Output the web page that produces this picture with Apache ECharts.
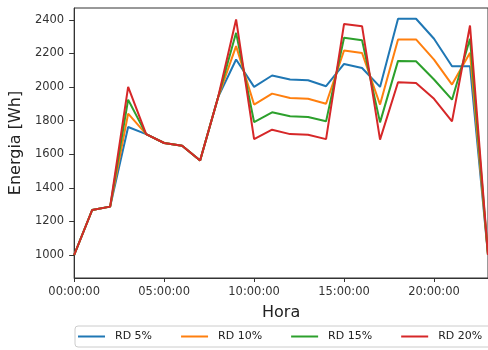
<!DOCTYPE html>
<html>
<head>
<meta charset="utf-8">
<script src="https://cdn.jsdelivr.net/npm/echarts@6/dist/echarts.min.js"></script>
<style>
html,body{margin:0;padding:0;background:#fff;}
#chart{width:488px;height:350px;}
</style>
</head>
<body>
<div id="chart"></div>
<script>
const hours = [0,1,2,3,4,5,6,7,8,9,10,11,12,13,14,15,16,17,18,19,20,21,22,23];
const seriesNames = ['RD 5%','RD 10%','RD 15%','RD 20%'];
const rd5  = [1000,1268,1288,1762,1720,1667,1651,1563,1940,2164,2001,2069,2045,2041,2005,2138,2114,2001,2407,2407,2288,2124,2124,1000];
const rd10 = [1000,1268,1288,1842,1720,1667,1651,1563,1940,2244,1896,1961,1935,1931,1901,2218,2203,1896,2284,2284,2164,2015,2204,1000];
const rd15 = [1000,1268,1288,1925,1720,1667,1651,1563,1940,2323,1792,1850,1826,1822,1796,2294,2279,1790,2156,2154,2045,1925,2288,1000];
const rd20 = [1000,1268,1288,2001,1720,1667,1651,1563,1940,2403,1690,1746,1720,1716,1690,2376,2363,1687,2029,2025,1930,1796,2367,1000];
const yTicks = [1000,1200,1400,1600,1800,2000,2200,2400];
const xTicks = [0,5,10,15,20];

const allSeries = [rd5, rd10, rd15, rd20];
const colors = ['#1f77b4','#ff7f0e','#2ca02c','#d62728'];
const pad = n => (n < 10 ? '0' : '') + n;

const chart = echarts.init(document.getElementById('chart'), null, {renderer:'canvas'});
chart.setOption({
  animation: false,
  backgroundColor: '#fff',
  grid: {left: 74, right: -3.5, top: 8, bottom: 72, show: true, borderColor: '#333', borderWidth: 1, backgroundColor: 'transparent'},
  xAxis: {
    type: 'value', min: 0, max: 23,
    name: 'Hora', nameLocation: 'middle', nameGap: 27,
    nameTextStyle: {fontFamily: 'DejaVu Sans', fontSize: 16, color: '#222'},
    axisLine: {show: true, lineStyle: {color: '#333', width: 1}},
    axisTick: {show: true, length: 4, customValues: xTicks, lineStyle: {color: '#333'}},
    axisLabel: {customValues: xTicks, fontFamily: 'DejaVu Sans', fontSize: 11.5, color: '#333', margin: 8,
      formatter: v => pad(v) + ':00:00'},
    splitLine: {show: false}
  },
  yAxis: {
    type: 'value', min: 863, max: 2471,
    name: 'Energia [Wh]', nameLocation: 'middle', nameGap: 50,
    nameTextStyle: {fontFamily: 'DejaVu Sans', fontSize: 16, color: '#222'},
    axisLine: {show: true, lineStyle: {color: '#333', width: 1}},
    axisTick: {show: true, length: 5, customValues: yTicks, lineStyle: {color: '#333'}},
    axisLabel: {customValues: yTicks, fontFamily: 'DejaVu Sans', fontSize: 11.5, color: '#333', margin: 10,
      formatter: v => String(v)},
    splitLine: {show: false}
  },
  legend: {
    left: 75, top: 326, width: 430, orient: 'horizontal',
    padding: [5, 10, 5, 3], itemGap: 29,
    itemWidth: 27, itemHeight: 2, icon: 'rect',
    borderColor: '#ccc', borderWidth: 1, borderRadius: 3,
    textStyle: {fontFamily: 'DejaVu Sans', fontSize: 11, color: '#222', padding: [0, 0, 0, 5]},
    data: seriesNames
  },
  series: allSeries.map((vals, i) => ({
    name: seriesNames[i], type: 'line', showSymbol: false, symbol: 'none',
    color: colors[i],
    lineStyle: {width: 2, color: colors[i]},
    data: hours.map((h, k) => [h, vals[k]]),
    z: 2 + i
  }))
});
</script>
</body>
</html>
